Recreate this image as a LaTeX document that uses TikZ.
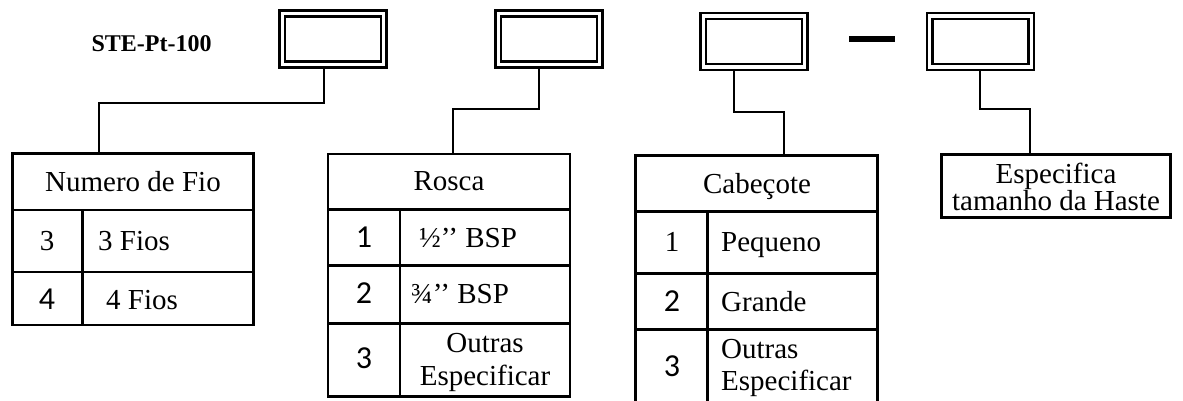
\documentclass[tikz,border=0pt]{standalone}
\usepackage{fontspec}
\setmainfont{Liberation Serif}
\newfontfamily\calib{Carlito}
\begin{document}
\begin{tikzpicture}[x=1pt,y=-1pt,
  dbox/.style={draw, double, double distance=3.3pt, line width=2.5pt, minimum width=101.6pt, minimum height=51.2pt, inner sep=0pt, outer sep=4.15pt},
  tbox/.style={draw, line width=2.8pt, inner sep=0pt, outer sep=0pt},
  tline/.style={line width=2.8pt},
  conn/.style={line width=1.6pt},
  txt/.style={inner sep=0pt, anchor=base, font=\fontsize{29}{26}\selectfont},
  txtw/.style={txt, anchor=base west},
  dig/.style={inner sep=0pt, anchor=base, font=\calib\fontsize{32}{30}\selectfont}]
\useasboundingbox (0,0) rectangle (1183,401);
\clip (0,0) rectangle (1183,401);
% title
\node[inner sep=0pt, anchor=base, font=\bfseries\fontsize{24}{28}\selectfont] (ste) at (151.5,52) {STE-Pt-100};
% code boxes
\node[dbox] (b1) at (333,39) {};
\node[dbox] (b2) at (549,39) {};
\node[dbox] (b3) at (754,41.5) {};
\node[dbox] (b4) at (980.5,41.5) {};
\draw[line width=6pt] (849,39) -- (895,39);
% tables (frames)
\node[tbox, minimum width=241pt, minimum height=171.7pt] (t1) at (133,239.15) {};
\node[tbox, minimum width=242pt, minimum height=242.7pt] (t2) at (449,275.35) {};
\node[tbox, minimum width=242pt, minimum height=264.7pt] (t3) at (756.7,287.65) {};
\node[tbox, minimum width=229pt, minimum height=63.4pt] (t4) at (1055.8,186) {};
% connectors
\draw[conn] ([xshift=-9pt]b1.south) -- ++(0,34) -| ([xshift=-34pt]t1.north);
\draw[conn] ([xshift=-10pt]b2.south) -- ++(0,40) -| ([xshift=4pt]t2.north);
\draw[conn] ([xshift=-20pt]b3.south) -- ++(0,41) -| ([xshift=27.3pt]t3.north);
\draw[conn] ([xshift=-0.5pt]b4.south) -- ++(0,38) -| ([xshift=-25.8pt]t4.north);
% table 1 grid
\draw[tline] (12.5,210) -- (253.5,210);
\draw[tline] (12.5,272) -- (253.5,272);
\draw[tline] (82.7,210) -- (82.7,325);
% table 2 grid
\draw[tline] (328,209.3) -- (570,209.3);
\draw[tline] (328,265.7) -- (570,265.7);
\draw[tline] (328,323.3) -- (570,323.3);
\draw[tline] (400,209.3) -- (400,396.7);
% table 3 grid
\draw[tline] (635.7,211.7) -- (877.7,211.7);
\draw[tline] (635.7,273.3) -- (877.7,273.3);
\draw[tline] (635.7,329.3) -- (877.7,329.3);
\draw[tline] (707.3,211.7) -- (707.3,420);
% table 1 texts
\node[txt] (t1h) at (133,191.7) {Numero de Fio};
\node[txt] (t1a) at (47,250.7) {3};
\node[txtw] (t1b) at (98,250.7) {3 Fios};
\node[dig] (t1c) at (47,309.3) {4};
\node[txtw] (t1d) at (106,309.3) {4 Fios};
% table 2 texts
\node[txt] (t2h) at (449,190.7) {Rosca};
\node[dig] (t2a) at (364,247.3) {1};
\node[txtw] (t2b) at (419,247.3) {½’’ BSP};
\node[dig] (t2c) at (364,303.3) {2};
\node[txtw] (t2d) at (411,303.3) {¾’’ BSP};
\node[dig] (t2e) at (364,368.3) {3};
\node[txt] (t2f) at (485,352.3) {Outras};
\node[txt] (t2g) at (485,385) {Especificar};
% table 3 texts
\node[txt] (t3h) at (757,193.3) {Cabeçote};
\node[txt] (t3a) at (672,251.7) {1};
\node[txtw] (t3b) at (721,251.7) {Pequeno};
\node[dig] (t3c) at (672,311.7) {2};
\node[txtw] (t3d) at (721,311.7) {Grande};
\node[dig] (t3e) at (672,376.7) {3};
\node[txtw] (t3f) at (721,358.3) {Outras};
\node[txtw] (t3g) at (721,390) {Especificar};
% table 4 texts
\node[txt] (t4a) at (1056,183.6) {Especifica};
\node[txt] (t4b) at (1056,210.8) {tamanho da Haste};
\end{tikzpicture}
\end{document}
